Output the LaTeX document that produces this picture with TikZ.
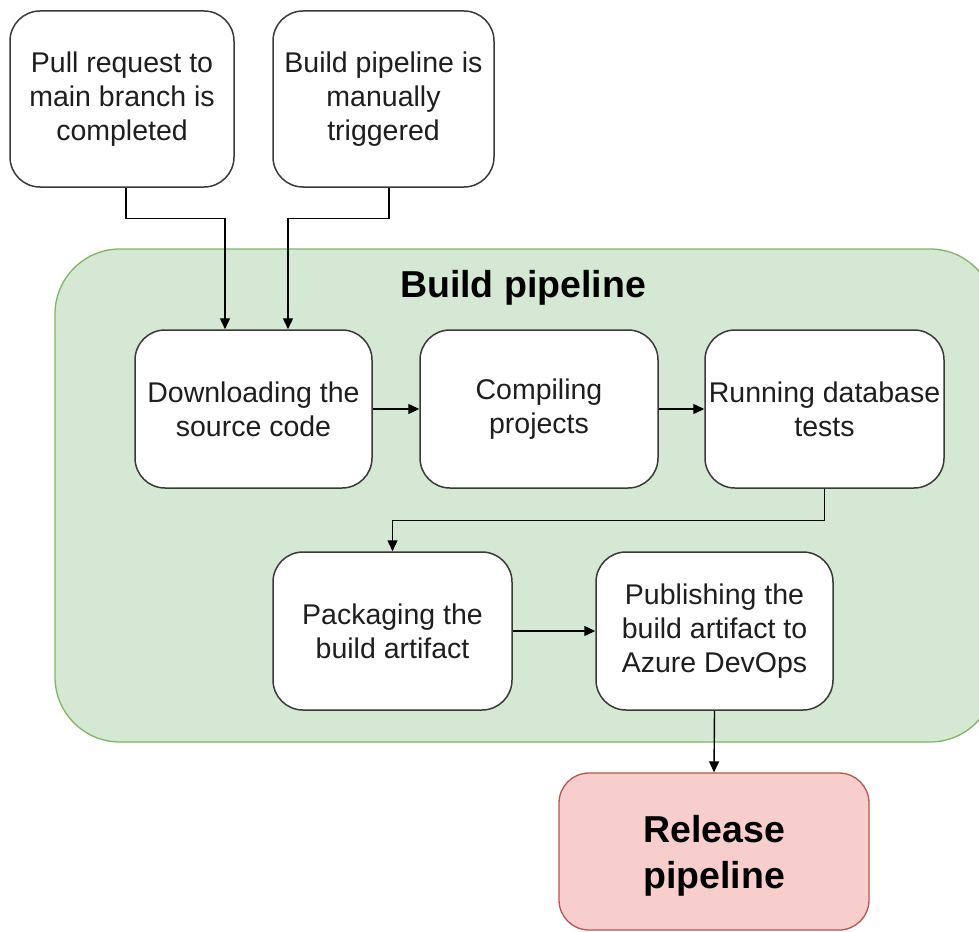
\documentclass[tikz,border=0pt]{standalone}
\usepackage{fontspec}
\setmainfont{Liberation Sans}
\usetikzlibrary{arrows.meta}
\definecolor{grpfill}{HTML}{D5E8D4}
\definecolor{grpline}{HTML}{82B366}
\definecolor{relfill}{HTML}{F8CECC}
\definecolor{relline}{HTML}{B85450}
\definecolor{boxline}{HTML}{3A3A3A}
\definecolor{txt}{HTML}{1E1E1E}
\tikzset{
  stepbox/.style={draw=boxline, line width=1.5pt, fill=white, rounded corners=30pt,
    align=center, text=txt, inner sep=0pt,
    font=\fontsize{28.5pt}{34pt}\selectfont},
  group/.style={draw=grpline, line width=1.3pt, fill=grpfill, rounded corners=65pt,
    inner sep=0pt, minimum width=940pt, minimum height=493pt},
  relbox/.style={draw=relline, line width=1.3pt, fill=relfill, rounded corners=30pt,
    inner sep=0pt, minimum width=310pt, minimum height=157pt},
  reltext/.style={align=center, text=black, inner sep=0pt,
    font=\bfseries\fontsize{37.5pt}{46pt}\selectfont},
  arr/.style={draw=black, line width=1.4pt, -{Triangle[length=11pt,width=10pt]}},
}
\begin{document}
\begin{tikzpicture}[x=1pt,y=-1pt]
\useasboundingbox (0,0) rectangle (979,931);
\begin{scope}
\clip (0,0) rectangle (979,931);
% build pipeline group
\node[group] (bp) at (525,495.5) {};
\node[font=\bfseries\fontsize{37.5pt}{45pt}\selectfont, text=black] (bptitle) at (523,288) {Build pipeline};

% triggers
\node[stepbox, minimum width=224pt, minimum height=176pt] (pr) at (122,99)
  {Pull request to\\main branch is\\completed};
\node[stepbox, minimum width=221pt, minimum height=176pt] (man) at (383.5,99)
  {Build pipeline is\\manually\\triggered};

% pipeline steps
\node[stepbox, minimum width=237pt, minimum height=158pt] (dl) at (253.5,409)
  {Downloading the\\source code};
\node[stepbox, minimum width=238pt, minimum height=158pt] (cmp) at (539,409)
  {Compiling\\projects};
\node[stepbox, minimum width=239pt, minimum height=158pt] (tst) at (824.5,409)
  {Running database\\tests};
\node[stepbox, minimum width=239pt, minimum height=158pt] (pkg) at (392.5,631)
  {Packaging the\\build artifact};
\node[stepbox, minimum width=237pt, minimum height=158pt] (pub) at (714.5,631)
  {Publishing the\\build artifact to\\Azure DevOps};

% release pipeline
\node[relbox] (rel) at (714,851.5) {};
\node[reltext] (reltxt) at (714,856) {Release\\pipeline};

% connectors
\draw[arr] ([xshift=4pt]pr.south) -- ++(0,31) -| ([xshift=-28.5pt]dl.north);
\draw[arr] ([xshift=5.5pt]man.south) -- ++(0,31) -| ([xshift=34.5pt]dl.north);
\draw[arr] (dl.east) -- (cmp.west);
\draw[arr] (cmp.east) -- (tst.west);
\draw[arr] (tst.south) -- ++(0,32) -| (pkg.north);
\draw[arr] (pkg.east) -- (pub.west);
\draw[arr] (pub.south) -- (rel.north);
\end{scope}
\end{tikzpicture}
\end{document}
